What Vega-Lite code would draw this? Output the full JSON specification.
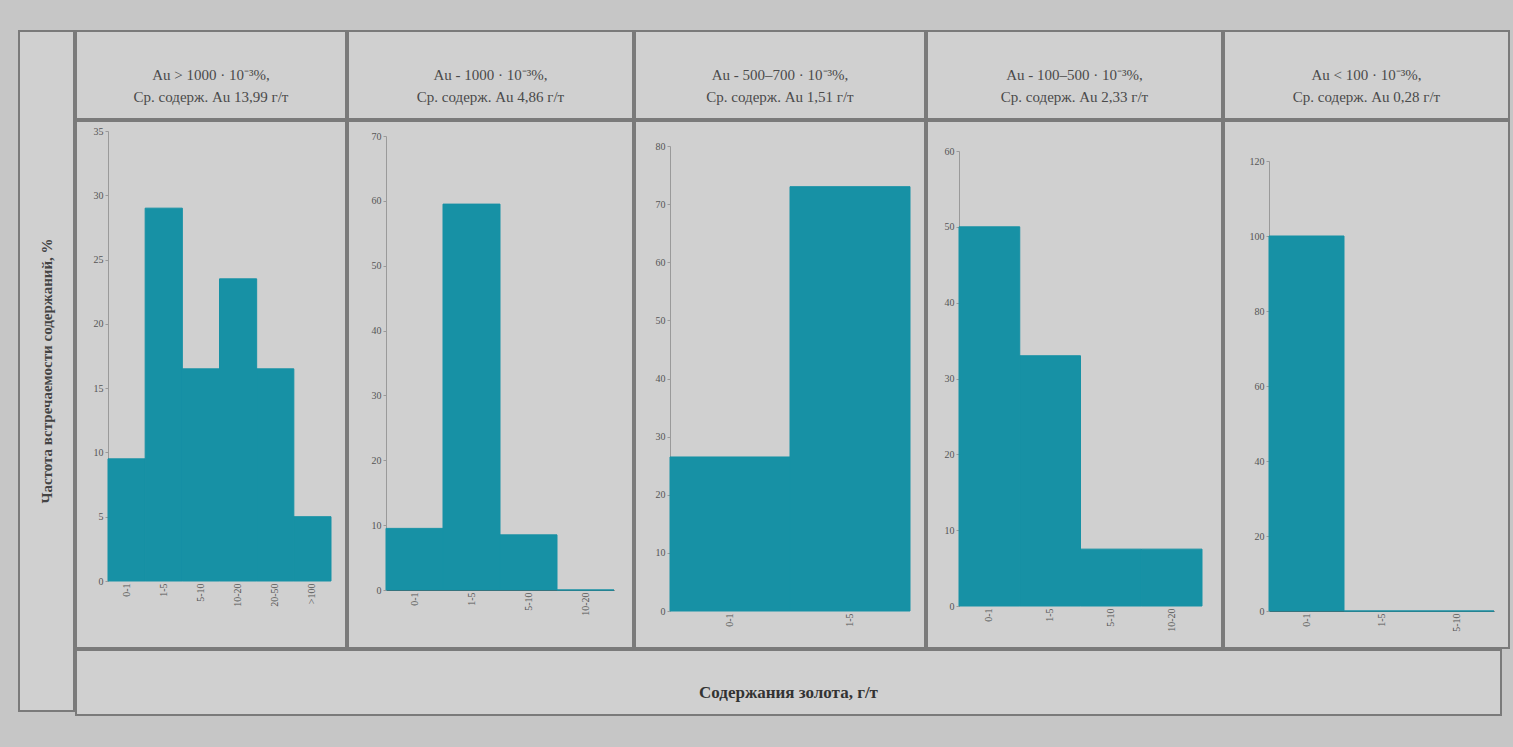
{
  "$schema": "https://vega.github.io/schema/vega-lite/v6.json",
  "background": "#c6c6c6",
  "padding": {"left": 18, "top": 30, "right": 15, "bottom": 37},
  "config": {
    "font": "Liberation Serif",
    "view": {"stroke": "#7a7a7a", "strokeWidth": 2, "fill": "#d0d0d0"},
    "concat": {"spacing": 0},
    "axis": {"grid": false, "title": null, "labelFont": "Liberation Serif", "labelColor": "#555555", "labelFontSize": 10, "domainColor": "#9a9a9a", "tickColor": "#9a9a9a", "tickSize": 3},
    "bar": {"color": "#1791a5", "stroke": "#1791a5", "strokeWidth": 1}
  },
  "hconcat": [
    {
      "width": 55, "height": 680,
      "data": {"values": [{"t": "Частота встречаемости содержаний, %"}]},
      "mark": {"type": "text", "angle": 270, "fontSize": 15, "color": "#444444", "fontWeight": "bold"},
      "encoding": {
        "text": {"field": "t"},
        "x": {"datum": 0.5, "type": "quantitative", "scale": {"domain": [0, 1]}, "axis": null},
        "y": {"datum": 0.5, "type": "quantitative", "scale": {"domain": [0, 1]}, "axis": null}
      }
    },
    {
      "vconcat": [
        {
          "hconcat": [
            {"width": 270, "height": 88, "data": {"values": [{"h": "Au > 1000 · 10⁻³%,\nСр. содерж. Au 13,99 г/т"}]},
             "mark": {"type": "text", "lineBreak": "\n", "fontSize": 15, "color": "#4a4a4a", "lineHeight": 22},
             "encoding": {"text": {"field": "h"},
               "x": {"datum": 0.5, "type": "quantitative", "scale": {"domain": [0, 1]}, "axis": null},
               "y": {"datum": 0.5, "type": "quantitative", "scale": {"domain": [0, 1]}, "axis": null}}},
            {"width": 285, "height": 88, "data": {"values": [{"h": "Au - 1000 · 10⁻³%,\nСр. содерж. Au 4,86 г/т"}]},
             "mark": {"type": "text", "lineBreak": "\n", "fontSize": 15, "color": "#4a4a4a", "lineHeight": 22},
             "encoding": {"text": {"field": "h"},
               "x": {"datum": 0.5, "type": "quantitative", "scale": {"domain": [0, 1]}, "axis": null},
               "y": {"datum": 0.5, "type": "quantitative", "scale": {"domain": [0, 1]}, "axis": null}}},
            {"width": 290, "height": 88, "data": {"values": [{"h": "Au - 500–700 · 10⁻³%,\nСр. содерж. Au 1,51 г/т"}]},
             "mark": {"type": "text", "lineBreak": "\n", "fontSize": 15, "color": "#4a4a4a", "lineHeight": 22},
             "encoding": {"text": {"field": "h"},
               "x": {"datum": 0.5, "type": "quantitative", "scale": {"domain": [0, 1]}, "axis": null},
               "y": {"datum": 0.5, "type": "quantitative", "scale": {"domain": [0, 1]}, "axis": null}}},
            {"width": 295, "height": 88, "data": {"values": [{"h": "Au - 100–500 · 10⁻³%,\nСр. содерж. Au 2,33 г/т"}]},
             "mark": {"type": "text", "lineBreak": "\n", "fontSize": 15, "color": "#4a4a4a", "lineHeight": 22},
             "encoding": {"text": {"field": "h"},
               "x": {"datum": 0.5, "type": "quantitative", "scale": {"domain": [0, 1]}, "axis": null},
               "y": {"datum": 0.5, "type": "quantitative", "scale": {"domain": [0, 1]}, "axis": null}}},
            {"width": 285, "height": 88, "data": {"values": [{"h": "Au < 100 · 10⁻³%,\nСр. содерж. Au 0,28 г/т"}]},
             "mark": {"type": "text", "lineBreak": "\n", "fontSize": 15, "color": "#4a4a4a", "lineHeight": 22},
             "encoding": {"text": {"field": "h"},
               "x": {"datum": 0.5, "type": "quantitative", "scale": {"domain": [0, 1]}, "axis": null},
               "y": {"datum": 0.5, "type": "quantitative", "scale": {"domain": [0, 1]}, "axis": null}}}
          ]
        },
        {
          "hconcat": [
            {
              "width": 270, "height": 527,
              "data": {"values": [
                {"bin": "0-1", "pct": 9.5}, {"bin": "1-5", "pct": 29}, {"bin": "5-10", "pct": 16.5},
                {"bin": "10-20", "pct": 23.5}, {"bin": "20-50", "pct": 16.5}, {"bin": ">100", "pct": 5}
              ]},
              "mark": "bar",
              "encoding": {
                "x": {"field": "bin", "type": "nominal", "sort": null,
                      "scale": {"range": [32, 255], "paddingInner": 0, "paddingOuter": 0},
                      "axis": {"offset": -67, "labelAngle": 270, "domain": false, "ticks": false}},
                "y": {"field": "pct", "type": "quantitative",
                      "scale": {"domain": [0, 35], "range": [460, 10], "nice": false},
                      "axis": {"offset": -32, "values": [0, 5, 10, 15, 20, 25, 30, 35]}}
              }
            },
            {
              "width": 285, "height": 527,
              "data": {"values": [
                {"bin": "0-1", "pct": 9.5}, {"bin": "1-5", "pct": 59.5}, {"bin": "5-10", "pct": 8.5}, {"bin": "10-20", "pct": 0}
              ]},
              "mark": "bar",
              "encoding": {
                "x": {"field": "bin", "type": "nominal", "sort": null,
                      "scale": {"range": [38, 266], "paddingInner": 0, "paddingOuter": 0},
                      "axis": {"offset": -58, "labelAngle": 270, "ticks": false, "domainColor": "#555555"}},
                "y": {"field": "pct", "type": "quantitative",
                      "scale": {"domain": [0, 70], "range": [469, 15], "nice": false},
                      "axis": {"offset": -38, "values": [0, 10, 20, 30, 40, 50, 60, 70]}}
              }
            },
            {
              "width": 290, "height": 527,
              "data": {"values": [
                {"bin": "0-1", "pct": 26.5}, {"bin": "1-5", "pct": 73}
              ]},
              "mark": "bar",
              "encoding": {
                "x": {"field": "bin", "type": "nominal", "sort": null,
                      "scale": {"range": [35, 275], "paddingInner": 0, "paddingOuter": 0},
                      "axis": {"offset": -37, "labelAngle": 270, "domain": false, "ticks": false}},
                "y": {"field": "pct", "type": "quantitative",
                      "scale": {"domain": [0, 80], "range": [490, 25], "nice": false},
                      "axis": {"offset": -35, "values": [0, 10, 20, 30, 40, 50, 60, 70, 80]}}
              }
            },
            {
              "width": 295, "height": 527,
              "data": {"values": [
                {"bin": "0-1", "pct": 50}, {"bin": "1-5", "pct": 33}, {"bin": "5-10", "pct": 7.5}, {"bin": "10-20", "pct": 7.5}
              ]},
              "mark": "bar",
              "encoding": {
                "x": {"field": "bin", "type": "nominal", "sort": null,
                      "scale": {"range": [32, 275], "paddingInner": 0, "paddingOuter": 0},
                      "axis": {"offset": -42, "labelAngle": 270, "domain": false, "ticks": false}},
                "y": {"field": "pct", "type": "quantitative",
                      "scale": {"domain": [0, 60], "range": [485, 30], "nice": false},
                      "axis": {"offset": -32, "values": [0, 10, 20, 30, 40, 50, 60]}}
              }
            },
            {
              "width": 285, "height": 527,
              "data": {"values": [
                {"bin": "0-1", "pct": 100}, {"bin": "1-5", "pct": 0}, {"bin": "5-10", "pct": 0}
              ]},
              "mark": "bar",
              "encoding": {
                "x": {"field": "bin", "type": "nominal", "sort": null,
                      "scale": {"range": [45, 270], "paddingInner": 0, "paddingOuter": 0},
                      "axis": {"offset": -37, "labelAngle": 270, "ticks": false, "domainColor": "#555555"}},
                "y": {"field": "pct", "type": "quantitative",
                      "scale": {"domain": [0, 120], "range": [490, 40], "nice": false},
                      "axis": {"offset": -45, "values": [0, 20, 40, 60, 80, 100, 120]}}
              }
            }
          ]
        },
        {
          "width": 1425, "height": 65,
          "data": {"values": [{"t": "Содержания золота, г/т"}]},
          "mark": {"type": "text", "fontSize": 17, "fontWeight": "bold", "color": "#333333", "dy": 10},
          "encoding": {
            "text": {"field": "t"},
            "x": {"datum": 0.5, "type": "quantitative", "scale": {"domain": [0, 1]}, "axis": null},
            "y": {"datum": 0.5, "type": "quantitative", "scale": {"domain": [0, 1]}, "axis": null}
          }
        }
      ]
    }
  ]
}
